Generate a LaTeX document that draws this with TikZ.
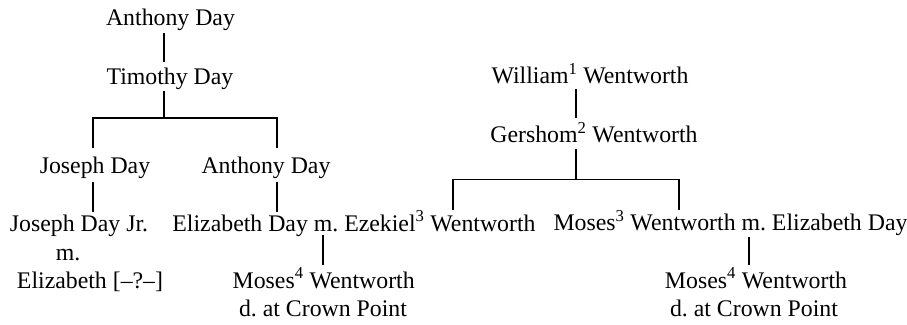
\documentclass[tikz,border=0pt]{standalone}
\usepackage{fontspec}
\setmainfont{Liberation Serif}
\begin{document}
\frenchspacing
\begin{tikzpicture}[x=1pt,y=-1pt,
  person/.style={anchor=base, inner sep=0pt, font=\fontsize{23.8}{28}\selectfont},
  link/.style={line width=1.8pt}]
\useasboundingbox (0,0) rectangle (907,324);

% Day family
\node[person] (anth)  at (170.5,25.7) {Anthony Day};
\node[person] (tim)   at (170,84)     {Timothy Day};
\node[person] (jos)   at (95,173.3)   {Joseph Day};
\node[person] (anth2) at (266,173.3)  {Anthony Day};
\node[person] (josjr) at (79,231)     {Joseph Day Jr.};
\node[person] (josm)  at (68,260)     {m.};
\node[person] (eliz)  at (90,288)     {Elizabeth [--?--]};
\node[person] (elizday) at (354,231)  {Elizabeth Day m. Ezekiel\textsuperscript{3} Wentworth};
\node[person] (mosesa) at (323.7,288) {Moses\textsuperscript{4} Wentworth};
\node[person] (crowna) at (323,316.7) {d. at Crown Point};

% Wentworth family
\node[person] (will)   at (590,83.3)   {William\textsuperscript{1} Wentworth};
\node[person] (gersh)  at (594,142.7)  {Gershom\textsuperscript{2} Wentworth};
\node[person] (moses3) at (730.5,230.7) {Moses\textsuperscript{3} Wentworth m. Elizabeth Day};
\node[person] (mosesb) at (756,288)    {Moses\textsuperscript{4} Wentworth};
\node[person] (crownb) at (754,316.7)  {d. at Crown Point};

% connector end points
\coordinate (anthB)  at (163.7,33);
\coordinate (timT)   at (163.7,62);
\coordinate (timB)   at (163.7,91);
\coordinate (timJ)   at (163.7,118);
\coordinate (josT)   at (92.7,148);
\coordinate (anth2T) at (277.3,148);
\coordinate (josB)   at (92.7,181.7);
\coordinate (josjrT) at (92.7,211.7);
\coordinate (anth2B) at (276.7,181.7);
\coordinate (elizT)  at (276.7,211.7);
\coordinate (elizB)  at (322.7,235);
\coordinate (mosesaT) at (322.7,265);

\coordinate (willB)  at (575.7,89);
\coordinate (gershT) at (575.7,118.3);
\coordinate (gershB) at (575.7,149);
\coordinate (gershJ) at (575.7,179.5);
\coordinate (ezekT)  at (452.7,210);
\coordinate (moses3T) at (679.3,210);
\coordinate (moses3B) at (749,236.7);
\coordinate (mosesbT) at (749,265);

% Day lines
\draw[link] (anthB) -- (timT);
\draw[link] (timB) -- (timJ);
\draw[link] (josT) -- (josT |- timJ) -- (anth2T |- timJ) -- (anth2T);
\draw[link] (josB) -- (josjrT);
\draw[link] (anth2B) -- (elizT);
\draw[link] (elizB) -- (mosesaT);

% Wentworth lines
\draw[link] (willB) -- (gershT);
\draw[link] (gershB) -- (gershJ);
\draw[link] (ezekT) -- (ezekT |- gershJ) -- (moses3T |- gershJ) -- (moses3T);
\draw[link] (moses3B) -- (mosesbT);
\end{tikzpicture}
\end{document}
